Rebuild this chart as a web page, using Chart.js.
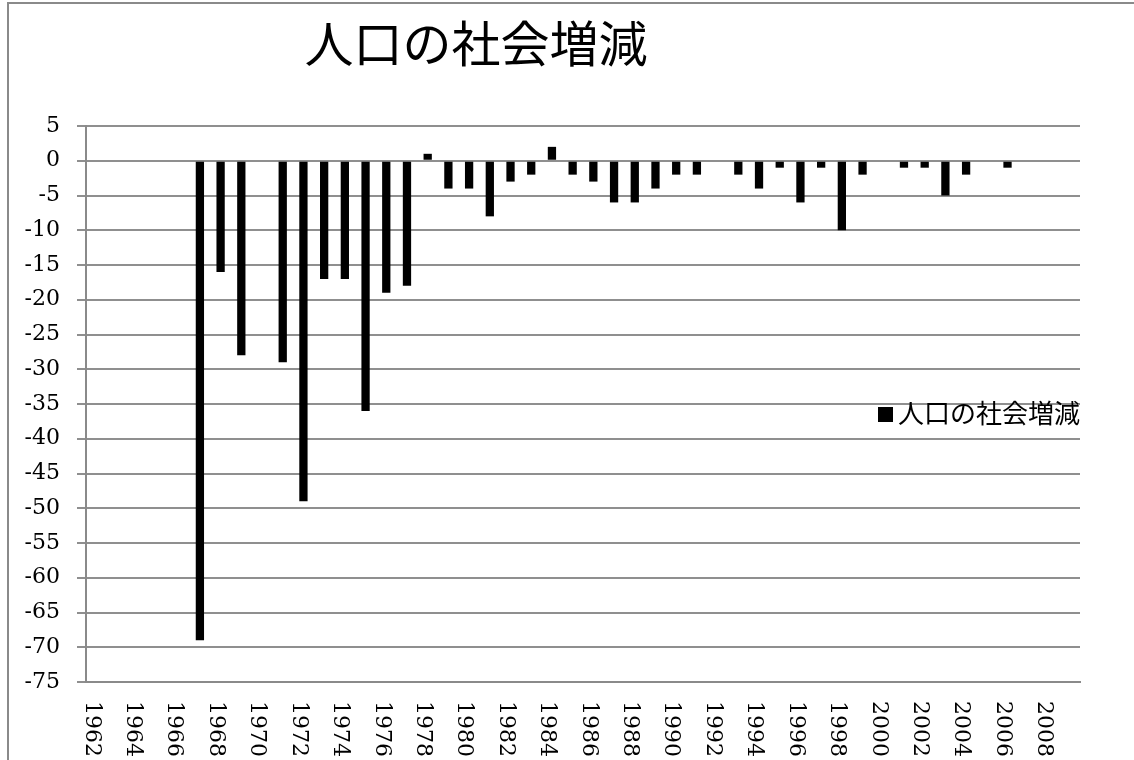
<!DOCTYPE html>
<html><head><meta charset="utf-8">
<script src="https://cdn.jsdelivr.net/npm/chart.js@4.4.0/dist/chart.umd.min.js"></script>
<style>html,body{margin:0;padding:0;background:#fff;overflow:hidden}#wrap{position:relative;width:1134px;height:760px}</style>
</head><body><div id="wrap"><canvas id="c"></canvas></div>
<script>
const chartTitle = '人口の社会増減';
const seriesName = '人口の社会増減';
const years = ['1962','1963','1964','1965','1966','1967','1968','1969','1970','1971','1972','1973','1974','1975','1976','1977','1978','1979','1980','1981','1982','1983','1984','1985','1986','1987','1988','1989','1990','1991','1992','1993','1994','1995','1996','1997','1998','1999','2000','2001','2002','2003','2004','2005','2006','2007','2008','2009'];
const values = [null,null,null,null,null,-69,-16,-28,null,-29,-49,-17,-17,-36,-19,-18,1,-4,-4,-8,-3,-2,2,-2,-3,-6,-6,-4,-2,-2,null,-2,-4,-1,-6,-1,-10,-2,null,-1,-1,-5,-2,null,-1,null,null,null];
const yMin = -75, yMax = 5, yStep = 5;

const SERIF = '"DejaVu Serif", "Liberation Serif", serif';
const CJK = '"Noto Sans CJK JP", "Noto Sans CJK SC", sans-serif';

const decor = {
  id: 'decor',
  beforeDraw(chart) {
    const ctx = chart.ctx;
    ctx.save();
    ctx.strokeStyle = '#8a8a8a';
    ctx.lineWidth = 2;
    ctx.strokeRect(8, 3, 1300, 900);
    ctx.restore();
  },
  afterDraw(chart) {
    const ctx = chart.ctx;
    const xs = chart.scales.x;
    ctx.save();
    // title
    ctx.fillStyle = '#000';
    ctx.font = '49px ' + CJK;
    ctx.textAlign = 'center';
    ctx.textBaseline = 'middle';
    ctx.fillText(chartTitle, 476, 43);
    // x labels rotated clockwise
    ctx.font = '22px ' + SERIF;
    ctx.textAlign = 'left';
    ctx.textBaseline = 'middle';
    years.forEach((y, i) => {
      if (i % 2 !== 0) return;
      const x = xs.getPixelForValue(i) - 5;
      ctx.save();
      ctx.translate(x, 701);
      ctx.rotate(Math.PI / 2);
      ctx.fillText(y, 0, 0);
      ctx.restore();
    });
    // legend
    ctx.fillStyle = '#000';
    ctx.fillRect(878, 407, 15, 15);
    ctx.font = '26px ' + CJK;
    ctx.textAlign = 'left';
    ctx.textBaseline = 'middle';
    ctx.fillText(seriesName, 898, 413);
    ctx.restore();
  }
};

new Chart(document.getElementById('c'), {
  type: 'bar',
  data: {
    labels: years,
    datasets: [{
      label: seriesName,
      data: values,
      backgroundColor: '#000',
      borderWidth: 0,
      barPercentage: 0.4,
      categoryPercentage: 1.0
    }]
  },
  options: {
    responsive: true,
    maintainAspectRatio: false,
    animation: false,
    layout: { padding: { top: 126, right: 54, left: 0, bottom: 0 } },
    plugins: { legend: { display: false }, title: { display: false }, tooltip: { enabled: false } },
    scales: {
      x: {
        ticks: { display: false },
        grid: { display: false, drawTicks: false },
        border: { display: true, color: '#8a8a8a', width: 2 },
        afterFit(s) { s.height = 78; }
      },
      y: {
        min: yMin, max: yMax,
        ticks: { stepSize: yStep, color: '#000', font: { family: SERIF, size: 22 }, padding: 17 },
        grid: { color: '#8f8f8f', lineWidth: 2, tickLength: 9 },
        border: { display: true, color: '#8a8a8a', width: 2 },
        afterFit(s) { s.width = 86; }
      }
    }
  },
  plugins: [decor]
});
</script></body></html>
